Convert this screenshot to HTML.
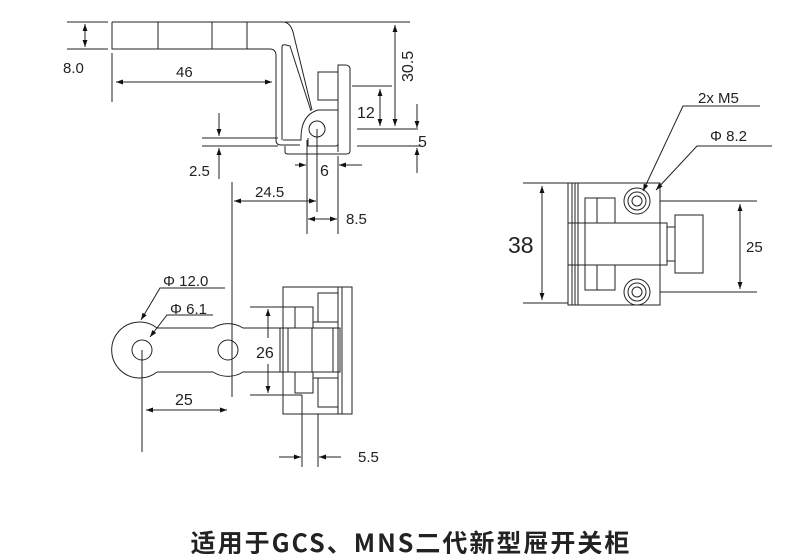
<!DOCTYPE html>
<html><head><meta charset="utf-8"><style>
html,body{margin:0;padding:0;background:#fff;width:800px;height:554px;overflow:hidden}
svg{display:block}
text{font-family:"Liberation Sans",Arial,sans-serif;fill:#222}
</style></head><body>
<svg width="800" height="554" viewBox="0 0 800 554" xmlns="http://www.w3.org/2000/svg">
<defs>
<marker id="a" viewBox="0 0 10 10" refX="10" refY="5" markerWidth="9" markerHeight="7" orient="auto-start-reverse" markerUnits="userSpaceOnUse"><path d="M0,1.5 L10,5 L0,8.5 z" fill="#111"/></marker>
</defs>
<g stroke="#222" stroke-width="1" fill="none">
<line x1="67" y1="22" x2="108" y2="22"/><line x1="67" y1="49" x2="108" y2="49"/>
<line x1="85" y1="24" x2="85" y2="47" marker-start="url(#a)" marker-end="url(#a)"/>
<path d="M112,22 H283 Q290,22 293,32 L312,110"/>
<path d="M112,22 V49 H270 Q276,49 276,56 V140 Q276,145 281,145 H300"/>
<line x1="158" y1="22" x2="158" y2="49"/><line x1="212" y1="22" x2="212" y2="49"/><line x1="247" y1="22" x2="247" y2="49"/>
<path d="M282,140 V47 Q282,44 286,45 L290,46 L311,111"/>
<path d="M283,140 H301 V135"/>
<path d="M301,138 Q301,115 318,110 H338"/>
<path d="M308,138 V146 H336 Q338,146 338,143 V96"/>
<path d="M285,146 V152 Q285,154 288,154 H346 Q350,154 350,151 L350,68 Q349,65 345,65 H338 V152"/>
<rect x="318" y="72" width="20" height="28"/>
<circle cx="317" cy="129" r="8"/>
<line x1="112" y1="53" x2="112" y2="102"/>
<line x1="116" y1="82" x2="272" y2="82" marker-start="url(#a)" marker-end="url(#a)"/>
<line x1="285" y1="22" x2="410" y2="22"/>
<line x1="395" y1="25" x2="395" y2="126" marker-start="url(#a)" marker-end="url(#a)"/>
<line x1="352" y1="86" x2="392" y2="86"/>
<line x1="380" y1="89" x2="380" y2="126" marker-start="url(#a)" marker-end="url(#a)"/>
<line x1="357" y1="129" x2="418" y2="129"/>
<line x1="357" y1="146" x2="420" y2="146"/>
<line x1="417" y1="104" x2="417" y2="128" marker-end="url(#a)"/>
<line x1="417" y1="173" x2="417" y2="148" marker-end="url(#a)"/>
<line x1="202" y1="138" x2="278" y2="138"/><line x1="202" y1="146" x2="278" y2="146"/>
<line x1="219" y1="113" x2="219" y2="136" marker-end="url(#a)"/>
<line x1="219" y1="179" x2="219" y2="148" marker-end="url(#a)"/>
<line x1="307" y1="140" x2="307" y2="234"/><line x1="338" y1="156" x2="338" y2="234"/>
<line x1="317" y1="129" x2="317" y2="212"/>
<line x1="295" y1="165" x2="306" y2="165" marker-end="url(#a)"/>
<line x1="362" y1="165" x2="339" y2="165" marker-end="url(#a)"/>
<line x1="232" y1="182" x2="232" y2="397"/>
<line x1="234" y1="201" x2="316" y2="201" marker-start="url(#a)" marker-end="url(#a)"/>
<line x1="308" y1="219" x2="337" y2="219" marker-start="url(#a)" marker-end="url(#a)"/>
<path d="M157,328 H213 A28,28 0 0 1 243,328 H282 M157,372 H213 A28,28 0 0 0 243,372 H282"/>
<path d="M157,328 A28,28 0 1 0 157,372"/>
<circle cx="142" cy="350" r="10"/><circle cx="228" cy="350" r="10"/>
<line x1="142" y1="350" x2="142" y2="452"/>
<line x1="146" y1="410" x2="227" y2="410" marker-start="url(#a)" marker-end="url(#a)"/>
<path d="M225,288 H160 L141,320" marker-end="url(#a)"/>
<path d="M213,315 H167 L150,337" marker-end="url(#a)"/>
<rect x="283" y="287" width="69" height="127"/>
<line x1="338" y1="287" x2="338" y2="414"/><line x1="342" y1="287" x2="342" y2="414"/>
<rect x="280" y="328" width="60" height="44"/>
<line x1="288" y1="328" x2="288" y2="372"/><line x1="312" y1="328" x2="312" y2="372"/><line x1="333" y1="328" x2="333" y2="372"/>
<rect x="318" y="293" width="20" height="29"/><rect x="295" y="307" width="18" height="21"/>
<line x1="313" y1="322" x2="318" y2="322"/>
<rect x="318" y="378" width="20" height="29"/><rect x="295" y="372" width="18" height="21"/>
<line x1="313" y1="378" x2="318" y2="378"/>
<line x1="250" y1="307" x2="295" y2="307"/><line x1="250" y1="395" x2="302" y2="395"/>
<line x1="268" y1="309" x2="268" y2="338" marker-start="url(#a)"/>
<line x1="268" y1="364" x2="268" y2="393" marker-end="url(#a)"/>
<line x1="302" y1="395" x2="302" y2="467"/><line x1="318" y1="414" x2="318" y2="467"/>
<line x1="279" y1="457" x2="301" y2="457" marker-end="url(#a)"/>
<line x1="341" y1="457" x2="319" y2="457" marker-end="url(#a)"/>
<line x1="523" y1="183" x2="568" y2="183"/><line x1="523" y1="303" x2="568" y2="303"/>
<line x1="542" y1="186" x2="542" y2="300" marker-start="url(#a)" marker-end="url(#a)"/>
<rect x="568" y="183" width="92" height="122"/>
<line x1="572" y1="183" x2="572" y2="305"/><line x1="575" y1="183" x2="575" y2="305"/><line x1="578" y1="183" x2="578" y2="305"/><line x1="585" y1="198" x2="585" y2="290"/>
<rect x="568" y="223" width="99" height="42"/>
<rect x="667" y="227" width="8" height="34"/>
<rect x="675" y="215" width="28" height="58"/>
<rect x="585" y="198" width="30" height="25"/><line x1="597" y1="198" x2="597" y2="223"/>
<rect x="585" y="265" width="30" height="25"/><line x1="597" y1="265" x2="597" y2="290"/>
<circle cx="637" cy="201" r="13"/><circle cx="637" cy="201" r="9"/><circle cx="637" cy="201" r="5"/>
<circle cx="637" cy="292" r="13"/><circle cx="637" cy="292" r="9"/><circle cx="637" cy="292" r="5"/>
<line x1="660" y1="201" x2="757" y2="201"/><line x1="660" y1="292" x2="757" y2="292"/>
<line x1="740" y1="204" x2="740" y2="289" marker-start="url(#a)" marker-end="url(#a)"/>
<path d="M760,106 H683 L643,191" marker-end="url(#a)"/>
<path d="M772,146 H697 L656,190" marker-end="url(#a)"/>
</g>
<g font-size="15">
<text x="63" y="73">8.0</text>
<text x="176" y="77">46</text>
<text x="0" y="0" transform="translate(413,82) rotate(-90)" font-size="16">30.5</text>
<text x="357" y="118" font-size="16">12</text>
<text x="418" y="147" font-size="16">5</text>
<text x="189" y="176">2.5</text>
<text x="320" y="176" font-size="16">6</text>
<text x="255" y="197">24.5</text>
<text x="346" y="224">8.5</text>
<text x="163" y="286">Φ 12.0</text>
<text x="170" y="314">Φ 6.1</text>
<text x="256" y="358" font-size="16">26</text>
<text x="175" y="405" font-size="16">25</text>
<text x="358" y="462">5.5</text>
<text x="698" y="103">2x M5</text>
<text x="710" y="141">Φ 8.2</text>
<text x="746" y="252">25</text>
<text x="508" y="253" font-size="23">38</text>
</g>
<text x="411" y="552" text-anchor="middle" font-size="25" font-weight="bold" letter-spacing="2" style="font-family:'Noto Sans CJK SC',sans-serif" fill="#222">适用于GCS、MNS二代新型屉开关柜</text>
</svg>
</body></html>
